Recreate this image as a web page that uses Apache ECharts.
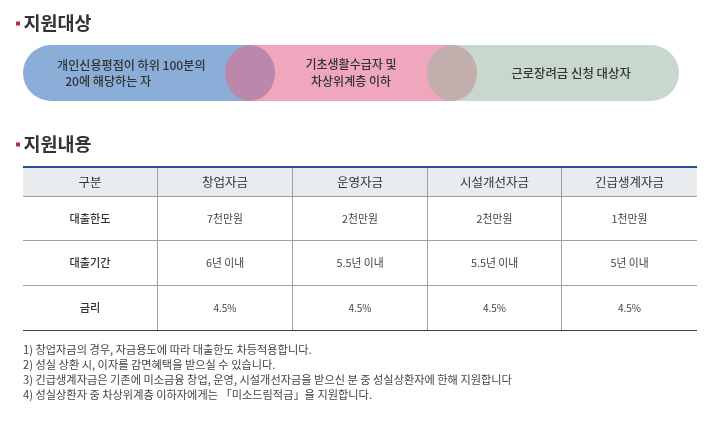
<!DOCTYPE html>
<html lang="ko">
<head>
    <meta charset="UTF-8">
    <title>지원대상 / 지원내용</title>
    <script src="https://cdnjs.cloudflare.com/ajax/libs/echarts/6.0.0/echarts.min.js"></script>
    <style>html, body { margin: 0; background: #fff; }</style>
</head>
<body>
    <div id="main" style="width: 718px; height: 424px"></div>
    <script>
        var sectionTitles = ['지원대상', '지원내용'];
        var targetGroups = ['개인신용평점이 하위 100분의\n   20에 해당하는 자', '기초생활수급자 및\n차상위계층 이하', '근로장려금 신청 대상자'];
        var targetSpans = [227, 202, 227];
        var columnNames = ['창업자금', '운영자금', '시설개선자금', '긴급생계자금'];
        var rowNames = ['대출한도', '대출기간', '금리'];
        var cornerName = '구분';
        var loanLimit = ['7천만원', '2천만원', '2천만원', '1천만원'];
        var loanPeriod = ['6년 이내', '5.5년 이내', '5.5년 이내', '5년 이내'];
        var interestRate = ['4.5%', '4.5%', '4.5%', '4.5%'];
        var notes = [
            '1) 창업자금의 경우, 자금용도에 따라 대출한도 차등적용합니다.',
            '2) 성실 상환 시, 이자를 감면혜택을 받으실 수 있습니다.',
            '3) 긴급생계자금은 기존에 미소금융 창업, 운영, 시설개선자금을 받으신 분 중 성실상환자에 한해 지원합니다',
            '4) 성실상환자 중 차상위계층 이하자에게는 「미소드림적금」을 지원합니다.'
        ];

        var font = '"Noto Sans CJK KR", "Noto Sans", sans-serif';
        var lineColor = '#a0a0a0';
        var cellLabel = {fontFamily: font, fontSize: 10.8, color: '#444'};
        var headLabel = {fontFamily: font, fontSize: 12.5, color: '#333'};
        var rowLabel = {fontFamily: font, fontSize: 11.2, fontWeight: 500, color: '#333'};
        var columnSizes = [135, 135, 134, 136];
        var rowSizes = [44.5, 45, 45];

        var bodyCells = [];
        [loanLimit, loanPeriod, interestRate].forEach(function (row, r) {
            row.forEach(function (text, c) {
                var cell = {coord: [c, r], value: text};
                // percent figures are set tighter than the rest of the table
                if (row === interestRate) {
                    cell.label = {fontSize: 10};
                }
                bodyCells.push(cell);
            });
        });

        var myChart = echarts.init(document.getElementById('main'));

        var graphics = [];
        sectionTitles.forEach(function (title, i) {
            var y = i === 0 ? 23 : 144;
            graphics.push({type: 'rect', shape: {x: 16, y: y - 1.5, width: 4, height: 4}, style: {fill: '#b03035'}});
            graphics.push({
                type: 'text', x: 23.5, y: y,
                style: {text: title, font: 'bold 18.5px ' + font, fill: '#333', textVerticalAlign: 'middle'}
            });
        });
        notes.forEach(function (line, i) {
            graphics.push({
                type: 'text', x: 23, y: 350 + i * 15,
                style: {text: line, font: '11.2px ' + font, fill: '#444', textVerticalAlign: 'middle'}
            });
        });
        // the table has no outer side borders, so cover the ones the matrix draws
        [22, 697].forEach(function (x) {
            graphics.push({type: 'rect', z: 40, shape: {x: x, y: 160, width: 1, height: 175}, style: {fill: '#fff'}});
        });
        graphics.push({type: 'line', z: 50, shape: {x1: 23, y1: 167, x2: 697, y2: 167}, style: {stroke: '#2f4a9a', lineWidth: 2}});
        graphics.push({type: 'line', z: 50, shape: {x1: 23, y1: 330.5, x2: 697, y2: 330.5}, style: {stroke: '#2f4560', lineWidth: 1}});

        var pillText = {show: true, fontFamily: font, fontWeight: 500, color: '#333', lineHeight: 16.5};

        myChart.setOption({
            animation: false,
            graphic: graphics,
            grid: {left: 23, top: 45, width: 656, height: 56},
            xAxis: {type: 'value', min: 0, max: 656, show: false},
            yAxis: {type: 'category', data: ['대상'], show: false},
            matrix: {
                left: 22, top: 167, width: 675, height: 163.5,
                x: {
                    data: columnNames.map(function (name, i) { return {value: name, size: columnSizes[i]}; }),
                    levelSize: 29,
                    label: headLabel,
                    itemStyle: {color: '#e9ecef', borderColor: lineColor, borderWidth: 1},
                    dividerLineStyle: {color: lineColor, width: 1}
                },
                y: {
                    data: rowNames.map(function (name, i) { return {value: name, size: rowSizes[i]}; }),
                    levelSize: 135,
                    label: rowLabel,
                    itemStyle: {color: '#fff', borderColor: lineColor, borderWidth: 1},
                    dividerLineStyle: {color: lineColor, width: 1}
                },
                corner: {
                    data: [{coord: [-1, -1], value: cornerName}],
                    label: headLabel,
                    itemStyle: {color: '#e9ecef', borderColor: lineColor, borderWidth: 1}
                },
                body: {
                    data: bodyCells,
                    label: cellLabel,
                    itemStyle: {color: '#fff', borderColor: lineColor, borderWidth: 1}
                },
                backgroundStyle: {color: '#fff', borderWidth: 0}
            },
            series: [
                {
                    type: 'bar', stack: 'target', barWidth: 56, silent: true,
                    data: [targetSpans[0]],
                    itemStyle: {color: '#8aaed8', borderRadius: [28, 0, 0, 28]},
                    label: Object.assign({}, pillText, {position: [34, 12], formatter: targetGroups[0], fontSize: 12.1, align: 'left', verticalAlign: 'top'})
                },
                {
                    type: 'bar', stack: 'target', silent: true,
                    data: [targetSpans[1]],
                    itemStyle: {color: '#f0a6bd'},
                    label: Object.assign({}, pillText, {position: 'inside', formatter: targetGroups[1], fontSize: 12})
                },
                {
                    type: 'bar', stack: 'target', silent: true,
                    data: [targetSpans[2]],
                    itemStyle: {color: '#c8d8cc', borderRadius: [0, 28, 28, 0]},
                    label: Object.assign({}, pillText, {position: 'inside', offset: [5.5, 0], formatter: targetGroups[2], fontSize: 12.4})
                },
                {
                    type: 'scatter', silent: true, symbolSize: [50, 56], z: 5,
                    data: [
                        {value: [targetSpans[0], 0], itemStyle: {color: '#bb88ac', opacity: 1}},
                        {value: [targetSpans[0] + targetSpans[1], 0], itemStyle: {color: '#c2aeac', opacity: 1}}
                    ]
                }
            ]
        });
    </script>
</body>
</html>
